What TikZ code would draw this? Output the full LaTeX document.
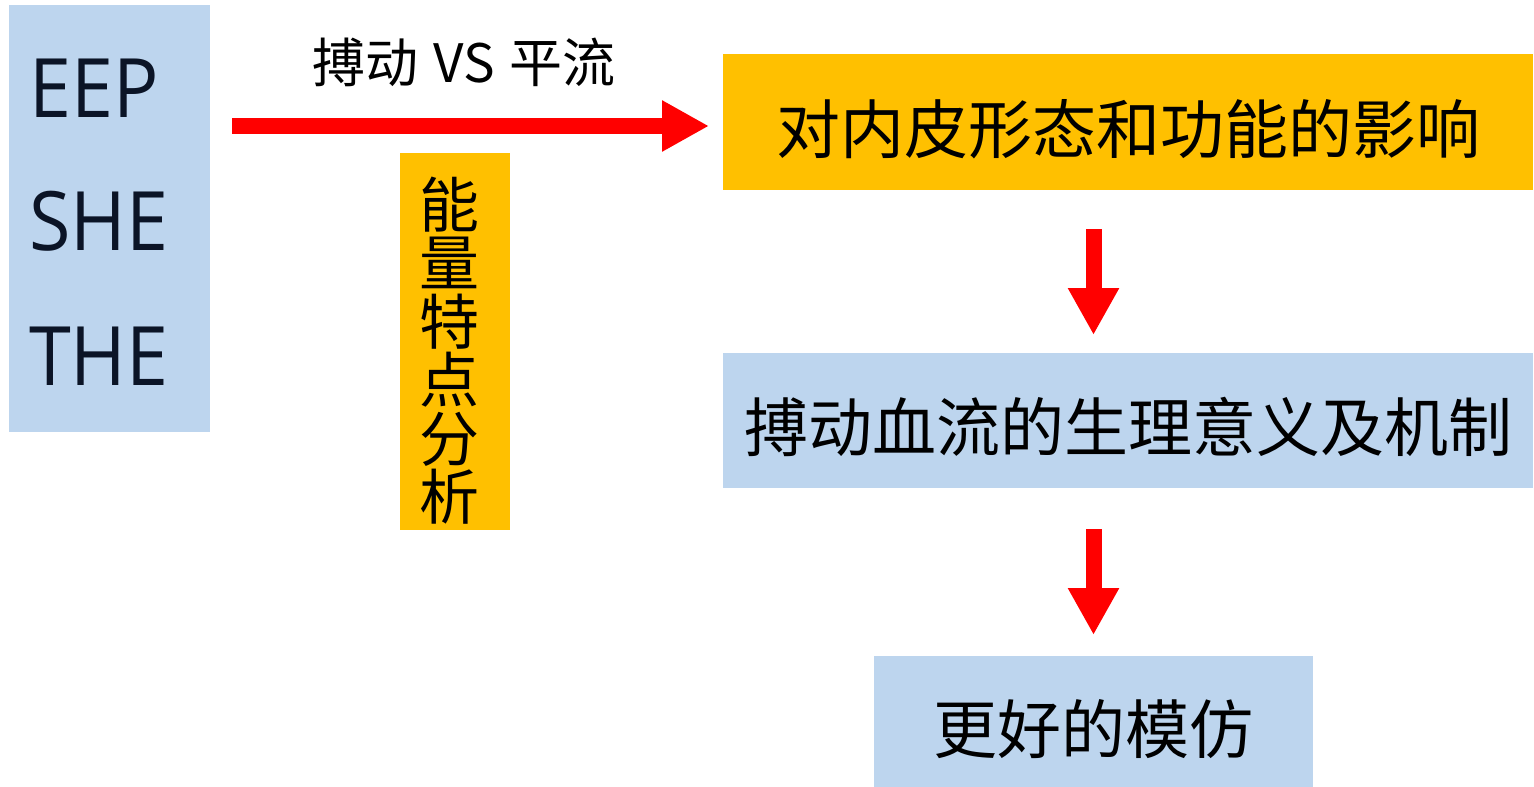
\documentclass[tikz,border=0pt]{standalone}
\usepackage{fontspec}
\setmainfont{Noto Sans CJK SC}
\newfontfamily\latinf[FakeStretch=0.92]{Open Sans}
\usetikzlibrary{arrows.meta}
\definecolor{lblue}{HTML}{BDD5EE}
\definecolor{gold}{HTML}{FFC000}
\definecolor{navy}{HTML}{0B1426}
\tikzset{
  box/.style={inner sep=0pt, outer sep=0pt, anchor=north west},
  bluebox/.style={box, fill=lblue},
  goldbox/.style={box, fill=gold},
  bigarrow/.style={draw=red, line width=16pt, -{Triangle[width=48pt,length=47pt]}},
  bigtxt/.style={font=\fontsize{64}{64}\selectfont, text=black},
  abbr/.style={font=\latinf\fontsize{82}{82}\selectfont, text=navy, anchor=base west, inner sep=0pt},
}
\begin{document}
\begin{tikzpicture}[x=1pt,y=-1pt]
\useasboundingbox (0,0) rectangle (1534,787);
% left box
\node[bluebox, minimum width=201pt, minimum height=427pt] (lb) at (9,5) {};
\node[abbr] (eep) at (29,117) {EEP};
\node[abbr] (she) at (29,250) {SHE};
\node[abbr] (the) at (29,385) {THE};
% vertical gold box
\node[goldbox, minimum width=110pt, minimum height=377pt] (vb) at (400,153) {};
\node[font=\fontsize{60}{58.5}\selectfont, align=center, inner sep=0pt] (vt) at ([xshift=-6pt,yshift=-9pt]vb.center) {能\\量\\特\\点\\分\\析};
% right boxes
\node[goldbox, minimum width=810pt, minimum height=136pt] (top) at (723,54) {};
\node[bigtxt] (toptxt) at ([yshift=-7pt]top.center) {对内皮形态和功能的影响};
\node[bluebox, minimum width=810pt, minimum height=135pt] (mid) at (723,353) {};
\node[bigtxt] (midtxt) at ([yshift=-6pt]mid.center) {搏动血流的生理意义及机制};
\node[bluebox, minimum width=439pt, minimum height=131pt] (bot) at (874,656) {};
\node[bigtxt] (bottxt) at ([yshift=-8pt]bot.center) {更好的模仿};
% label
\node[font=\fontsize{53}{53}\selectfont, anchor=base, inner sep=0pt] (lab) at (464,82) {搏动\hspace{15pt}VS\hspace{15pt}平流};
% arrows
\coordinate (hs) at (232,126);
\coordinate (he) at (709,126);
\draw[bigarrow] (hs) -- (he);
\draw[bigarrow, shorten <=39pt, shorten >=18pt] (bot.north |- top.south) -- (bot.north |- mid.north);
\draw[bigarrow, shorten <=41pt, shorten >=21pt] (bot.north |- mid.south) -- (bot.north);
\end{tikzpicture}
\end{document}
